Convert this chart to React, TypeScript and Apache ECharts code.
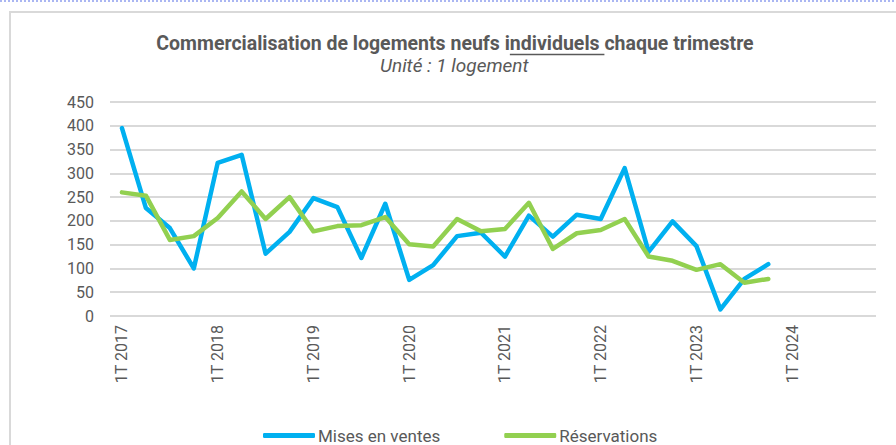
import React, { useEffect, useRef } from "react";
import * as echarts from "echarts";

const categories = [
  "1T 2017", "2T 2017", "3T 2017", "4T 2017",
  "1T 2018", "2T 2018", "3T 2018", "4T 2018",
  "1T 2019", "2T 2019", "3T 2019", "4T 2019",
  "1T 2020", "2T 2020", "3T 2020", "4T 2020",
  "1T 2021", "2T 2021", "3T 2021", "4T 2021",
  "1T 2022", "2T 2022", "3T 2022", "4T 2022",
  "1T 2023", "2T 2023", "3T 2023", "4T 2023",
  "1T 2024", "2T 2024", "3T 2024", "4T 2024",
];

const misesEnVentes = [
  395, 227, 185, 100, 322, 339, 131, 177, 248, 229, 122, 236, 76, 107,
  168, 175, 125, 211, 167, 213, 204, 311, 135, 199, 147, 14, 78, 109,
];

const reservations = [
  260, 253, 160, 168, 206, 262, 204, 250, 178, 189, 191, 208, 151, 146,
  204, 178, 183, 238, 141, 174, 181, 204, 125, 116, 97, 109, 70, 78,
];

const yTicks = { min: 0, max: 450, interval: 50 };

const titleParts = ["Commercialisation de logements neufs i", "ndividuels ", "chaque trimestre"];
const subtitle = "Unité : 1 logement";

const W = 896;
const H = 445;

export default function App() {
  const ref = useRef<HTMLDivElement>(null);
  useEffect(() => {
    if (!ref.current) return;
    const chart = echarts.init(ref.current, null, { renderer: "svg" });

    const titleFont = "bold 19.5px Roboto";
    const cv = document.createElement("canvas").getContext("2d")!;
    cv.font = titleFont;
    const w0 = cv.measureText(titleParts[0]).width;
    const w1 = cv.measureText(titleParts[1]).width;
    const wAll = cv.measureText(titleParts.join("")).width;
    const cx = 455;
    const tLeft = cx - wAll / 2;

    chart.setOption({
      animation: false,
      backgroundColor: "#ffffff",
      grid: { left: 110, right: W - 876, top: 102, bottom: H - 316 },
      xAxis: {
        type: "category",
        data: categories,
        boundaryGap: true,
        axisLine: { show: false },
        axisTick: { show: false },
        axisLabel: {
          interval: 3,
          rotate: 90,
          margin: 9,
          color: "#595959",
          fontFamily: "Roboto",
          fontSize: 16,
        },
      },
      yAxis: {
        type: "value",
        min: yTicks.min,
        max: yTicks.max,
        interval: yTicks.interval,
        axisLine: { show: false },
        axisTick: { show: false },
        axisLabel: { color: "#595959", fontFamily: "Roboto", fontSize: 16, margin: 16 },
        splitLine: { lineStyle: { color: "#d9d9d9", width: 2 } },
      },
      legend: {
        left: 258,
        top: 422,
        icon: "roundRect",
        itemWidth: 52,
        itemHeight: 5,
        itemGap: 64,
        textStyle: { color: "#595959", fontFamily: "Roboto", fontSize: 17, padding: [0, 0, 0, -2] },
        data: ["Mises en ventes", "Réservations"],
      },
      series: [
        {
          name: "Mises en ventes",
          type: "line",
          data: misesEnVentes,
          symbol: "none",
          color: "#00b0f0",
          lineStyle: { width: 4.5, color: "#00b0f0", cap: "round", join: "round" },
          z: 2,
        },
        {
          name: "Réservations",
          type: "line",
          data: reservations,
          symbol: "none",
          color: "#92d050",
          lineStyle: { width: 4.5, color: "#92d050", cap: "round", join: "round" },
          z: 3,
        },
      ],
      graphic: [
        {
          type: "line",
          shape: { x1: 0, y1: 1, x2: W, y2: 1 },
          style: { stroke: "#aab6f2", lineWidth: 2, lineDash: [2, 2] },
          silent: true,
        },
        {
          type: "line",
          shape: { x1: 9, y1: 12, x2: W, y2: 12 },
          style: { stroke: "#d9d9d9", lineWidth: 2 },
          silent: true,
        },
        {
          type: "line",
          shape: { x1: 10, y1: 12, x2: 10, y2: H },
          style: { stroke: "#d9d9d9", lineWidth: 2 },
          silent: true,
        },
        {
          type: "text",
          left: tLeft,
          top: 33,
          style: {
            text: titleParts.join(""),
            font: titleFont,
            fill: "#595959",
          },
          silent: true,
        },
        {
          type: "line",
          shape: { x1: tLeft + w0, y1: 54.5, x2: tLeft + w0 + w1, y2: 54.5 },
          style: { stroke: "#595959", lineWidth: 1.3 },
          silent: true,
        },
        {
          type: "text",
          left: 380,
          top: 56,
          style: {
            text: subtitle,
            font: "italic 19px Roboto",
            fill: "#595959",
          },
          silent: true,
        },
      ],
    });
    return () => chart.dispose();
  }, []);
  return (
    <div
      ref={ref}
      style={{ position: "fixed", left: 0, top: 0, width: W, height: H, background: "#fff" }}
    />
  );
}
